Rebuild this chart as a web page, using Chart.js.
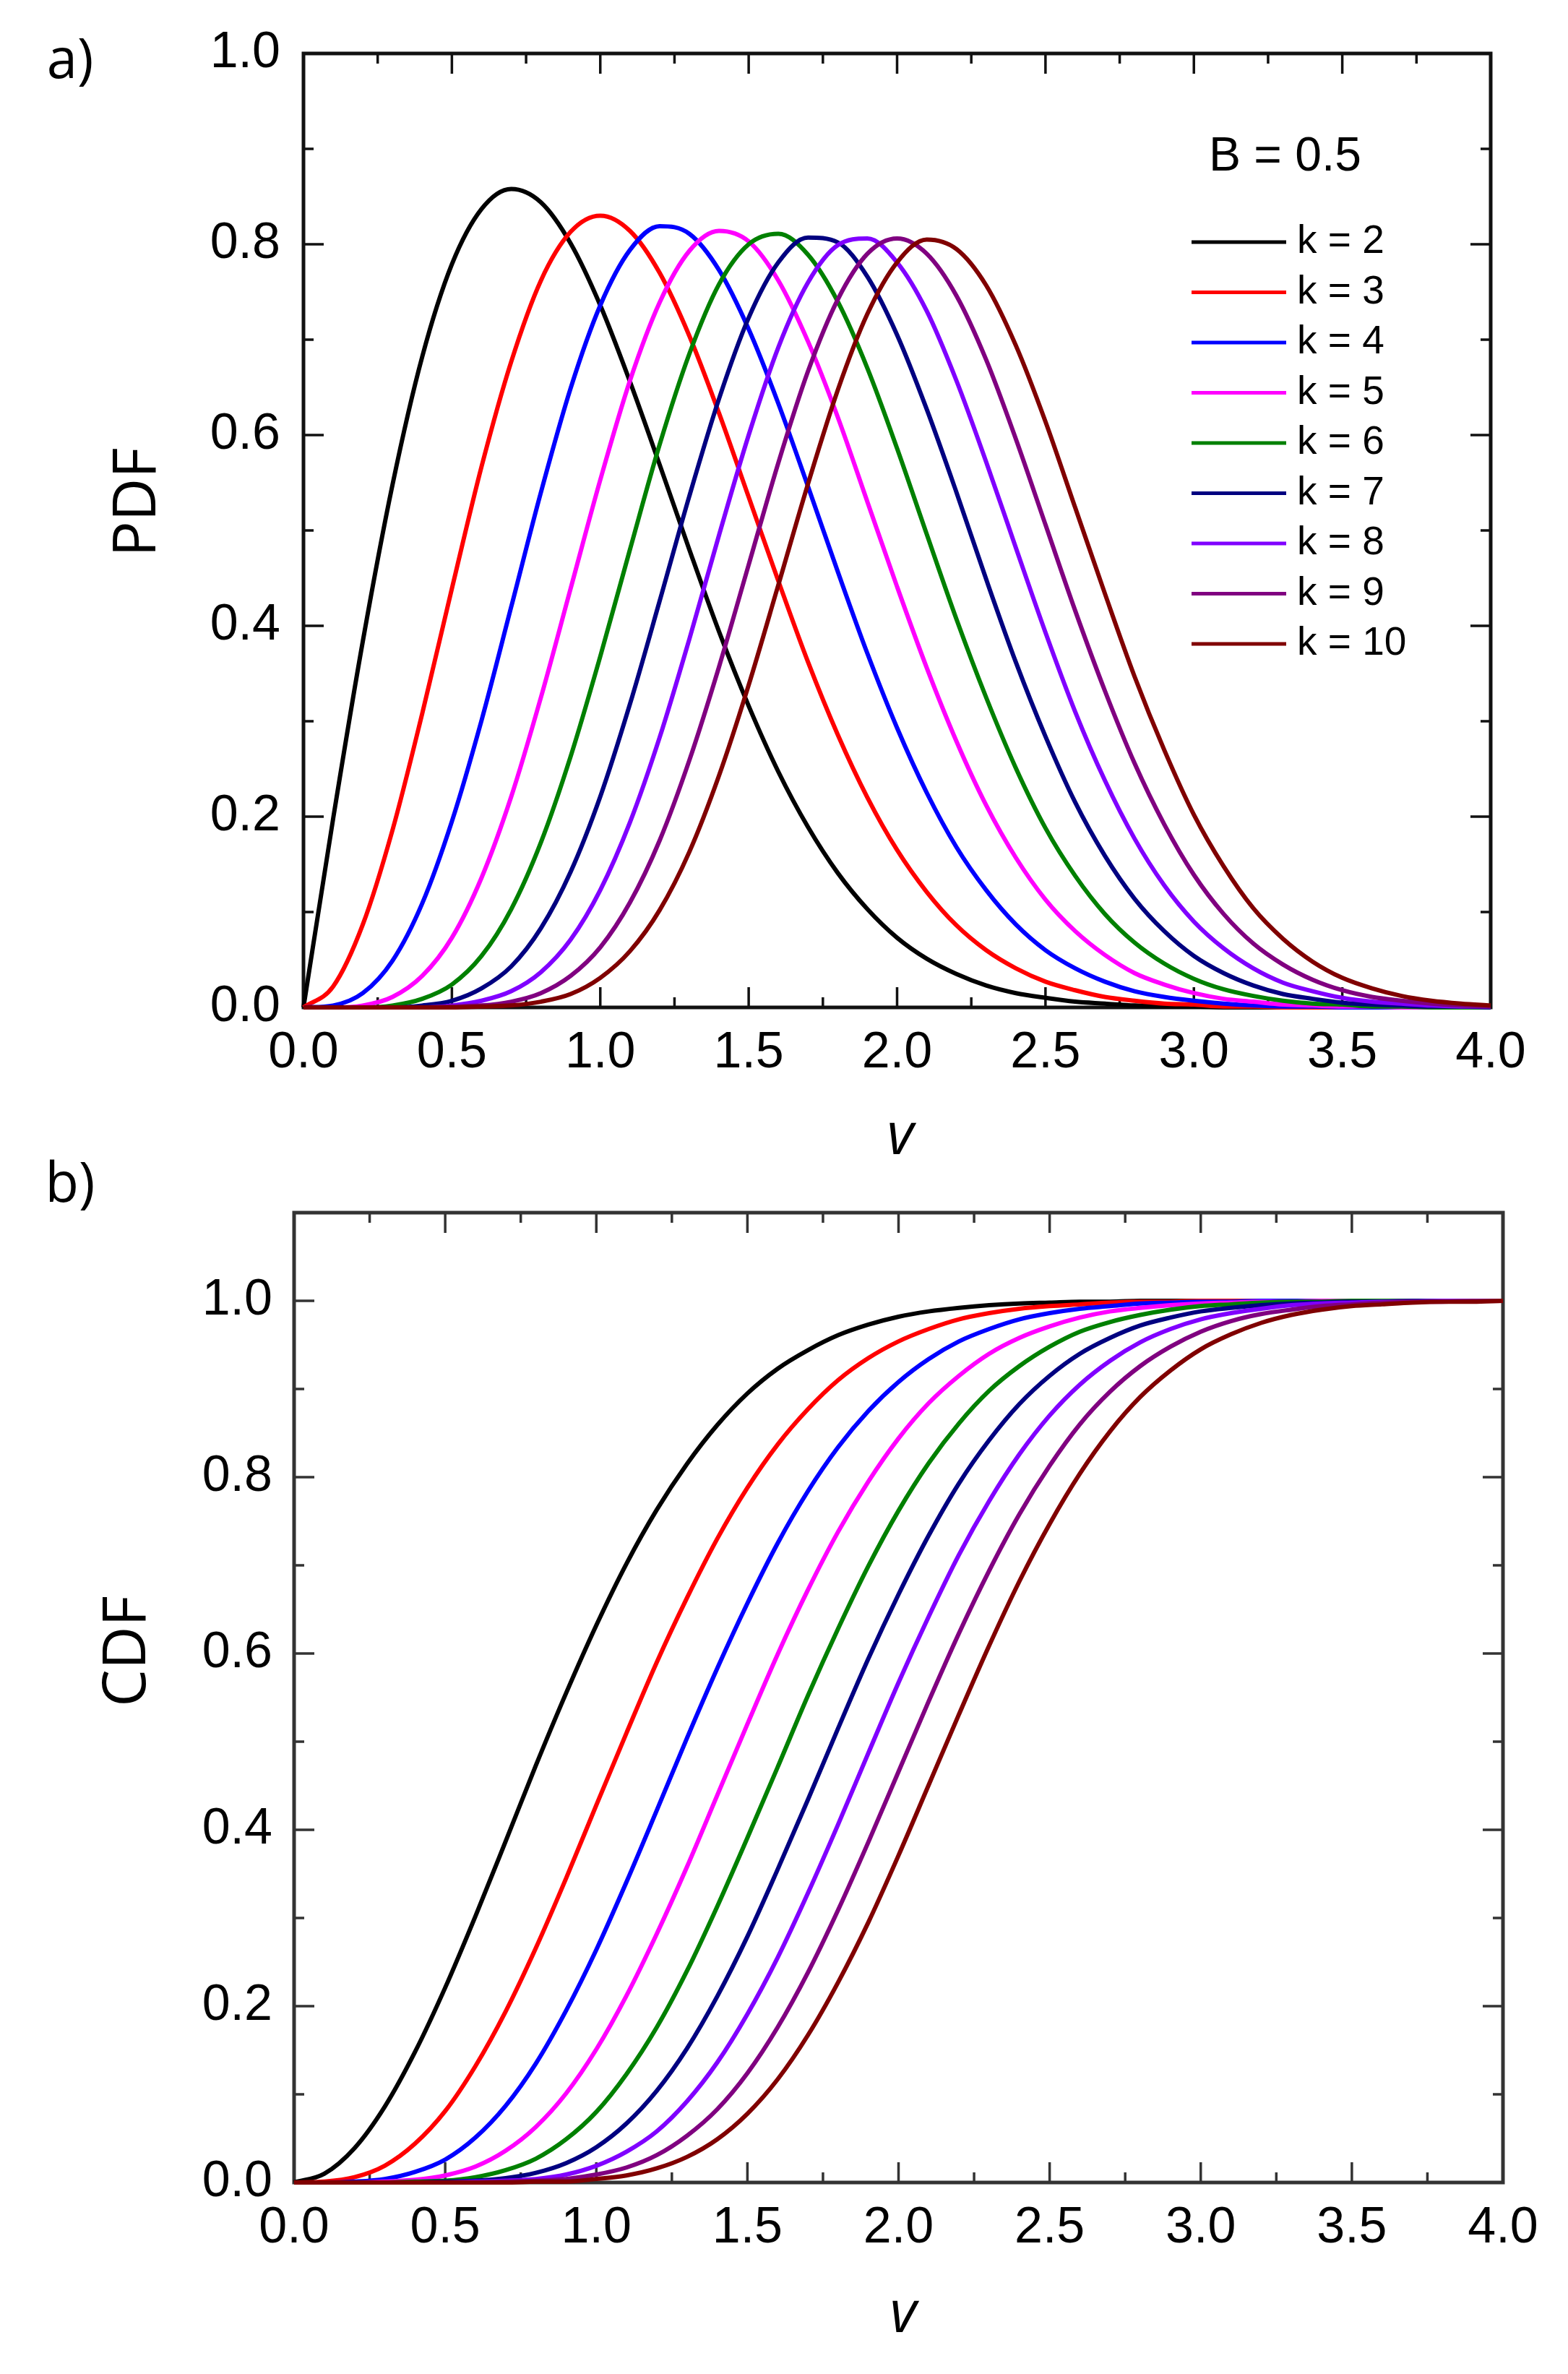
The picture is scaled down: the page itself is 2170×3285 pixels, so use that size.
<!DOCTYPE html>
<html>
<head>
<meta charset="utf-8">
<title>PDF / CDF, B = 0.5</title>
<script src="https://cdn.jsdelivr.net/npm/chart.js@4.4.1/dist/chart.umd.min.js"></script>
<style>
    html, body { margin: 0; padding: 0; background: #fff; }
    body { width: 2170px; height: 3285px; position: relative; overflow: hidden; }
    canvas { position: absolute; left: 0; }
    #pdfChart { top: 0; }
    #cdfChart { top: 1580px; }
</style>
</head>
<body>
<canvas id="pdfChart" width="2170" height="1620" style="width:2170px;height:1620px"></canvas>
<canvas id="cdfChart" width="2170" height="1705" style="width:2170px;height:1705px"></canvas>
<script>
// v axis, shared by every curve
var vValues = [0, 0.1, 0.2, 0.3, 0.4, 0.5, 0.6, 0.7, 0.8, 0.9, 1.0, 1.1, 1.2, 1.3, 1.4, 1.5, 1.6, 1.7, 1.8, 1.9,
    2.0, 2.1, 2.2, 2.3, 2.4, 2.5, 2.6, 2.7, 2.8, 2.9, 3.0, 3.1, 3.2, 3.3, 3.4, 3.5, 3.6, 3.7, 3.8, 3.9, 4.0];

var kLabels = ['k = 2', 'k = 3', 'k = 4', 'k = 5', 'k = 6', 'k = 7', 'k = 8', 'k = 9', 'k = 10'];
var kColors = ['#000000', '#ff0000', '#0000ff', '#ff00ff', '#008000', '#000080', '#8000ff', '#800080', '#800000'];
var paramLabel = 'B = 0.5';

// a) PDF
var pdfK2 = [0, 0.198, 0.384, 0.548, 0.682, 0.779, 0.837, 0.858, 0.844, 0.801, 0.736, 0.656, 0.569, 0.480, 0.394, 0.316, 0.247, 0.189, 0.141, 0.103,
    0.073, 0.051, 0.035, 0.023, 0.015, 0.010, 0.006, 0.004, 0.002, 0.001, 0.001, 0, 0, 0, 0, 0, 0, 0, 0, 0, 0];
var pdfK3 = [0, 0.022, 0.087, 0.186, 0.308, 0.439, 0.567, 0.677, 0.762, 0.813, 0.830, 0.814, 0.770, 0.704, 0.623, 0.535, 0.447, 0.362, 0.286, 0.220,
    0.165, 0.121, 0.086, 0.060, 0.041, 0.027, 0.018, 0.011, 0.007, 0.004, 0.003, 0.001, 0.001, 0, 0, 0, 0, 0, 0, 0, 0];
var pdfK4 = [0, 0.002, 0.015, 0.049, 0.109, 0.195, 0.301, 0.420, 0.540, 0.649, 0.736, 0.794, 0.819, 0.811, 0.773, 0.711, 0.633, 0.546, 0.457, 0.371,
    0.293, 0.225, 0.168, 0.123, 0.087, 0.060, 0.041, 0.027, 0.017, 0.011, 0.007, 0.004, 0.002, 0.001, 0.001, 0, 0, 0, 0, 0, 0];
var pdfK5 = [0, 0, 0.002, 0.011, 0.033, 0.073, 0.136, 0.221, 0.325, 0.439, 0.553, 0.657, 0.739, 0.793, 0.814, 0.803, 0.762, 0.698, 0.619, 0.530,
    0.441, 0.356, 0.279, 0.212, 0.157, 0.113, 0.080, 0.055, 0.036, 0.024, 0.015, 0.009, 0.006, 0.003, 0.002, 0.001, 0.001, 0, 0, 0, 0];
var pdfK6 = [0, 0, 0, 0.002, 0.009, 0.024, 0.054, 0.103, 0.173, 0.263, 0.368, 0.480, 0.590, 0.685, 0.758, 0.800, 0.811, 0.789, 0.740, 0.670,
    0.586, 0.496, 0.407, 0.325, 0.251, 0.188, 0.138, 0.098, 0.068, 0.046, 0.030, 0.019, 0.012, 0.007, 0.004, 0.003, 0.001, 0.001, 0, 0, 0];
var pdfK7 = [0, 0, 0, 0, 0.002, 0.007, 0.020, 0.043, 0.083, 0.142, 0.221, 0.318, 0.426, 0.536, 0.638, 0.723, 0.781, 0.807, 0.802, 0.766,
    0.705, 0.627, 0.540, 0.449, 0.362, 0.284, 0.215, 0.159, 0.114, 0.080, 0.054, 0.036, 0.023, 0.014, 0.009, 0.005, 0.003, 0.002, 0.001, 0.001, 0];
var pdfK8 = [0, 0, 0, 0, 0, 0.002, 0.007, 0.017, 0.037, 0.071, 0.123, 0.194, 0.283, 0.386, 0.495, 0.600, 0.692, 0.760, 0.799, 0.806,
    0.781, 0.730, 0.657, 0.572, 0.482, 0.393, 0.310, 0.238, 0.177, 0.128, 0.090, 0.062, 0.041, 0.026, 0.017, 0.010, 0.006, 0.004, 0.002, 0.001, 0.001];
var pdfK9 = [0, 0, 0, 0, 0, 0.001, 0.002, 0.006, 0.015, 0.033, 0.063, 0.110, 0.175, 0.259, 0.357, 0.464, 0.571, 0.667, 0.742, 0.790,
    0.806, 0.790, 0.746, 0.679, 0.596, 0.506, 0.416, 0.332, 0.256, 0.192, 0.139, 0.098, 0.067, 0.045, 0.029, 0.018, 0.011, 0.007, 0.004, 0.002, 0.001];
var pdfK10 = [0, 0, 0, 0, 0, 0, 0.001, 0.002, 0.006, 0.014, 0.031, 0.059, 0.102, 0.163, 0.243, 0.338, 0.443, 0.549, 0.647, 0.727,
    0.781, 0.805, 0.795, 0.757, 0.694, 0.614, 0.524, 0.434, 0.347, 0.270, 0.202, 0.148, 0.104, 0.072, 0.048, 0.031, 0.020, 0.012, 0.007, 0.004, 0.002];

// b) CDF
var cdfK2 = [0, 0.010, 0.039, 0.086, 0.148, 0.221, 0.302, 0.387, 0.473, 0.555, 0.632, 0.702, 0.763, 0.815, 0.859, 0.895, 0.923, 0.944, 0.961, 0.973,
    0.982, 0.988, 0.992, 0.995, 0.997, 0.998, 0.999, 0.999, 1, 1, 1, 1, 1, 1, 1, 1, 1, 1, 1, 1, 1];
var cdfK3 = [0, 0.001, 0.006, 0.019, 0.044, 0.081, 0.132, 0.194, 0.266, 0.345, 0.428, 0.510, 0.590, 0.663, 0.730, 0.788, 0.837, 0.877, 0.910, 0.935,
    0.954, 0.968, 0.979, 0.986, 0.991, 0.994, 0.996, 0.998, 0.999, 0.999, 1, 1, 1, 1, 1, 1, 1, 1, 1, 1, 1];
var cdfK4 = [0, 0, 0.001, 0.004, 0.012, 0.026, 0.051, 0.087, 0.135, 0.195, 0.264, 0.341, 0.422, 0.504, 0.583, 0.657, 0.725, 0.784, 0.834, 0.875,
    0.908, 0.934, 0.954, 0.968, 0.979, 0.986, 0.991, 0.994, 0.997, 0.998, 0.999, 0.999, 1, 1, 1, 1, 1, 1, 1, 1, 1];
var cdfK5 = [0, 0, 0, 0.001, 0.003, 0.008, 0.018, 0.036, 0.063, 0.101, 0.151, 0.212, 0.282, 0.358, 0.439, 0.520, 0.599, 0.672, 0.738, 0.795,
    0.844, 0.884, 0.915, 0.940, 0.958, 0.971, 0.981, 0.988, 0.992, 0.995, 0.997, 0.998, 0.999, 0.999, 1, 1, 1, 1, 1, 1, 1];
var cdfK6 = [0, 0, 0, 0, 0.001, 0.002, 0.006, 0.014, 0.027, 0.049, 0.080, 0.123, 0.176, 0.240, 0.313, 0.391, 0.471, 0.552, 0.628, 0.699,
    0.762, 0.816, 0.861, 0.898, 0.926, 0.948, 0.965, 0.976, 0.984, 0.990, 0.994, 0.996, 0.998, 0.999, 0.999, 1, 1, 1, 1, 1, 1];
var cdfK7 = [0, 0, 0, 0, 0, 0.001, 0.002, 0.005, 0.011, 0.022, 0.040, 0.067, 0.104, 0.152, 0.211, 0.279, 0.355, 0.434, 0.515, 0.594,
    0.667, 0.734, 0.793, 0.842, 0.883, 0.915, 0.940, 0.958, 0.972, 0.981, 0.988, 0.992, 0.995, 0.997, 0.998, 0.999, 0.999, 1, 1, 1, 1];
var cdfK8 = [0, 0, 0, 0, 0, 0, 0.001, 0.002, 0.004, 0.009, 0.019, 0.035, 0.058, 0.092, 0.136, 0.191, 0.255, 0.328, 0.406, 0.487,
    0.567, 0.642, 0.712, 0.773, 0.826, 0.870, 0.905, 0.932, 0.953, 0.968, 0.979, 0.986, 0.991, 0.995, 0.997, 0.998, 0.999, 0.999, 1, 1, 1];
var cdfK9 = [0, 0, 0, 0, 0, 0, 0, 0.001, 0.002, 0.004, 0.009, 0.017, 0.031, 0.053, 0.083, 0.124, 0.176, 0.238, 0.309, 0.386,
    0.466, 0.546, 0.623, 0.694, 0.758, 0.813, 0.860, 0.897, 0.926, 0.948, 0.965, 0.977, 0.985, 0.990, 0.994, 0.996, 0.998, 0.999, 0.999, 1, 1];
var cdfK10 = [0, 0, 0, 0, 0, 0, 0, 0, 0.001, 0.001, 0.004, 0.008, 0.016, 0.029, 0.049, 0.078, 0.117, 0.167, 0.227, 0.295,
    0.371, 0.451, 0.531, 0.609, 0.682, 0.747, 0.804, 0.852, 0.891, 0.921, 0.945, 0.962, 0.975, 0.984, 0.990, 0.994, 0.996, 0.998, 0.999, 0.999, 1];

var pdfSeries = [pdfK2, pdfK3, pdfK4, pdfK5, pdfK6, pdfK7, pdfK8, pdfK9, pdfK10];
var cdfSeries = [cdfK2, cdfK3, cdfK4, cdfK5, cdfK6, cdfK7, cdfK8, cdfK9, cdfK10];

Chart.defaults.font.family = '"Liberation Sans", Arial, sans-serif';
Chart.defaults.color = '#000';

// box round the plot with inward ticks on all four sides
var framePlugin = {
    id: 'frame',
    beforeDatasetsDraw: function (chart, args, opts) {
        var ctx = chart.ctx, a = chart.chartArea;
        var xs = chart.scales.x, ys = chart.scales.y;
        ctx.save();
        ctx.strokeStyle = opts.color;
        ctx.lineWidth = opts.tickWidth;
        ctx.beginPath();
        var n = Math.round((xs.max - xs.min) / opts.xMinor);
        for (var i = 1; i < n; i++) {
            var px = xs.getPixelForValue(xs.min + i * opts.xMinor);
            var len = (i % 2 === 0) ? opts.major : opts.minor;
            ctx.moveTo(px, a.bottom); ctx.lineTo(px, a.bottom - len);
            ctx.moveTo(px, a.top); ctx.lineTo(px, a.top + len);
        }
        n = Math.round((ys.max - ys.min) / opts.yMinor);
        for (i = 1; i < n; i++) {
            var py = ys.getPixelForValue(ys.min + i * opts.yMinor);
            len = (i % 2 === 0) ? opts.major : opts.minor;
            ctx.moveTo(a.left, py); ctx.lineTo(a.left + len, py);
            ctx.moveTo(a.right, py); ctx.lineTo(a.right - len, py);
        }
        ctx.stroke();
        ctx.lineWidth = opts.borderWidth;
        ctx.strokeRect(a.left, a.top, a.right - a.left, a.bottom - a.top);
        ctx.restore();
    }
};

// panel letter and axis titles
var panelTextPlugin = {
    id: 'panelText',
    afterDraw: function (chart, args, opts) {
        var ctx = chart.ctx;
        ctx.save();
        ctx.fillStyle = '#000';
        ctx.textAlign = 'center';
        ctx.textBaseline = 'middle';
        opts.items.forEach(function (it) {
            ctx.save();
            ctx.font = it.font;
            ctx.translate(it.x, it.y);
            if (it.rotate) ctx.rotate(it.rotate);
            ctx.fillText(it.text, 0, 0);
            ctx.restore();
        });
        ctx.restore();
    }
};

// legend inside panel a)
var curveLegendPlugin = {
    id: 'curveLegend',
    afterDatasetsDraw: function (chart, args, opts) {
        if (!opts.show) return;
        var ctx = chart.ctx;
        ctx.save();
        ctx.fillStyle = '#000';
        ctx.textBaseline = 'middle';
        ctx.textAlign = 'left';
        ctx.font = opts.titleFont;
        ctx.fillText(opts.title, opts.titleX, opts.titleY);
        ctx.font = opts.font;
        ctx.lineWidth = opts.lineWidth;
        kLabels.forEach(function (label, i) {
            var y = opts.rowY + i * opts.rowStep;
            ctx.strokeStyle = kColors[i];
            ctx.beginPath();
            ctx.moveTo(opts.lineX0, y);
            ctx.lineTo(opts.lineX1, y);
            ctx.stroke();
            ctx.fillText(label, opts.textX, y);
        });
        ctx.restore();
    }
};

function buildDatasets(seriesList) {
    return seriesList.map(function (values, i) {
        return {
            label: kLabels[i],
            data: values.map(function (y, j) { return { x: vValues[j], y: y }; }),
            borderColor: kColors[i],
            backgroundColor: kColors[i],
            borderWidth: 6,
            pointRadius: 0,
            fill: false,
            clip: false,
            cubicInterpolationMode: 'monotone',
            order: seriesList.length - i
        };
    });
}

function makeChart(canvasId, seriesList, cfg) {
    var canvas = document.getElementById(canvasId);
    return new Chart(canvas.getContext('2d'), {
        type: 'line',
        data: { datasets: buildDatasets(seriesList) },
        plugins: [framePlugin, panelTextPlugin, curveLegendPlugin],
        options: {
            responsive: false,
            maintainAspectRatio: false,
            devicePixelRatio: 1,
            animation: false,
            events: [],
            layout: { padding: cfg.padding },
            scales: {
                x: {
                    type: 'linear', min: 0, max: 4,
                    grid: { display: false, drawTicks: false },
                    border: { display: false },
                    ticks: {
                        stepSize: 0.5, padding: 22, autoSkip: false, maxRotation: 0,
                        font: { size: 70 }, color: '#000',
                        callback: function (v) { return v.toFixed(1); }
                    },
                    afterFit: function (s) { s.height = 150; }
                },
                y: {
                    type: 'linear', min: 0, max: cfg.yMax,
                    grid: { display: false, drawTicks: false },
                    border: { display: false },
                    ticks: {
                        stepSize: 0.2, padding: cfg.yPad, includeBounds: false,
                        font: { size: 70 }, color: '#000',
                        callback: function (v) { return v.toFixed(1); }
                    },
                    afterFit: function (s) { s.width = cfg.yWidth; }
                }
            },
            plugins: {
                legend: { display: false },
                tooltip: { enabled: false },
                frame: { color: cfg.frameColor, borderWidth: 5, tickWidth: 3.5, major: 28, minor: 14, xMinor: 0.25, yMinor: 0.1 },
                panelText: { items: cfg.texts },
                curveLegend: cfg.legend
            }
        }
    });
}

function initCharts() {
    makeChart('pdfChart', pdfSeries, {
        yMax: 1, yWidth: 420, yPad: 32, frameColor: '#111',
        padding: { left: 0, top: 71, right: 107, bottom: 76 },
        texts: [
            { text: 'a)', x: 97, y: 86, font: '76px "Open Sans"' },
            { text: 'PDF', x: 192, y: 695, font: '82px "Open Sans"', rotate: -Math.PI / 2 },
            { text: 'v', x: 1246, y: 1574, font: 'italic 80px "Open Sans"' }
        ],
        legend: {
            show: true, title: paramLabel, titleX: 1673, titleY: 218, titleFont: '66px "Liberation Sans"',
            font: '55px "Liberation Sans"', lineWidth: 5,
            rowY: 335, rowStep: 69.5, lineX0: 1649, lineX1: 1780, textX: 1795
        }
    });

    makeChart('cdfChart', cdfSeries, {
        yMax: 1.1, yWidth: 407, yPad: 30, frameColor: '#333',
        padding: { left: 0, top: 98, right: 90, bottom: 115 },
        texts: [
            { text: 'b)', x: 97, y: 61, font: '76px "Open Sans"' },
            { text: 'CDF', x: 178, y: 705, font: '82px "Open Sans"', rotate: -Math.PI / 2 },
            { text: 'v', x: 1250, y: 1624, font: 'italic 80px "Open Sans"' }
        ],
        legend: { show: false }
    });
}

document.addEventListener('DOMContentLoaded', initCharts);
</script>
</body>
</html>
